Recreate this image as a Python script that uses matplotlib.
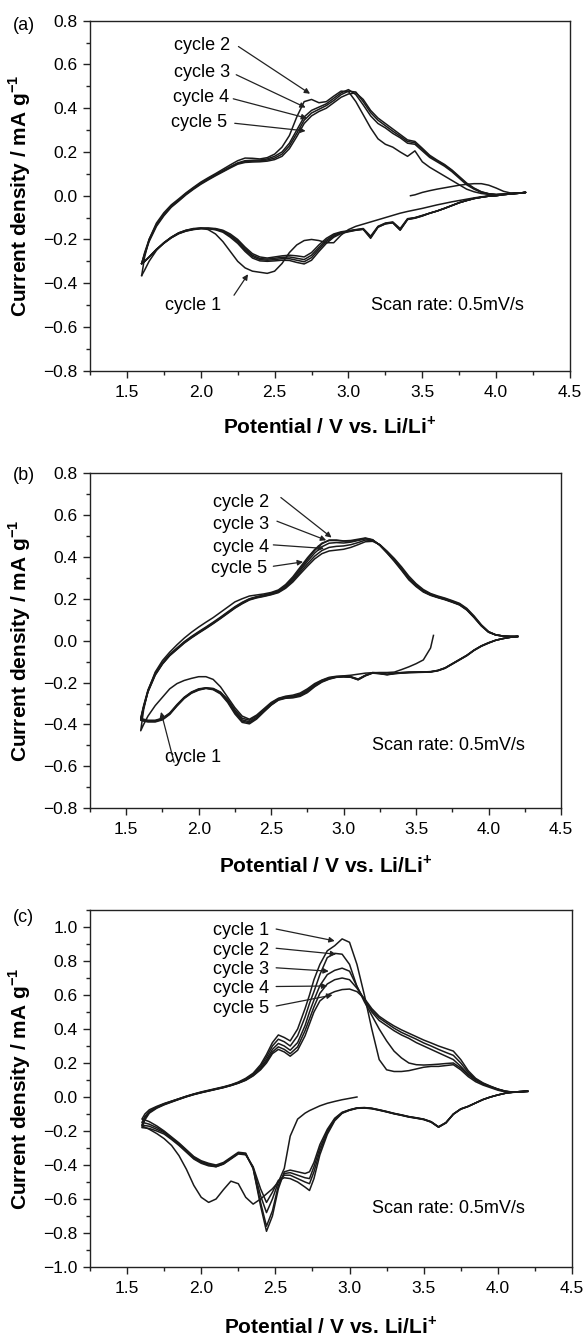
import numpy as np
import matplotlib.pyplot as plt

plt.rcParams['font.family'] = ['Liberation Sans', 'DejaVu Sans']
plt.rcParams['mathtext.fontset'] = 'custom'
plt.rcParams['mathtext.rm'] = 'Liberation Sans'
plt.rcParams['mathtext.bf'] = 'Liberation Sans:bold'

nan = np.nan

# ---------------- panel (a) ----------------
A_V = [1.60, 1.62, 1.65, 1.70, 1.75, 1.80, 1.85, 1.90, 1.95, 2.00,
       2.05, 2.10, 2.15, 2.20, 2.25, 2.30, 2.35, 2.40, 2.45, 2.50,
       2.55, 2.60, 2.65, 2.70, 2.75, 2.80, 2.85, 2.90, 2.95, 3.00,
       3.05, 3.10, 3.15, 3.20, 3.25, 3.30, 3.35, 3.40, 3.45, 3.50,
       3.55, 3.60, 3.65, 3.70, 3.75, 3.80, 3.85, 3.90, 3.95, 4.00,
       4.05, 4.10, 4.15, 4.20]
A_V0 = [3.42]
A_I0 = [0.0]
A_an1 = [nan] * 38 + [0.004, 0.015,
         0.023, 0.030, 0.036, 0.042, 0.048, 0.052, 0.055, 0.055, 0.048, 0.035,
         0.020, 0.012, 0.012, 0.015]
A_ca1 = [-0.365, -0.34, -0.30, -0.25, -0.215, -0.19, -0.17, -0.158, -0.15, -0.148,
         -0.155, -0.175, -0.21, -0.255, -0.30, -0.33, -0.345, -0.35, -0.355, -0.345,
         -0.31, -0.26, -0.225, -0.205, -0.20, -0.205, -0.215, -0.215, -0.18, -0.155,
         -0.14, -0.13, -0.12, -0.11, -0.10, -0.09, -0.08, -0.072, -0.065, -0.058,
         -0.05, -0.042, -0.035, -0.028, -0.022, -0.016, -0.01, -0.005, -0.001, 0.002,
         0.005, 0.008, 0.011, 0.015]
A_an2 = [-0.365, -0.28, -0.20, -0.125, -0.078, -0.042, -0.015, 0.013, 0.038, 0.062,
         0.082, 0.101, 0.121, 0.141, 0.160, 0.172, 0.171, 0.168, 0.174, 0.190,
         0.222, 0.275, 0.360, 0.430, 0.440, 0.425, 0.430, 0.455, 0.478, 0.476,
         0.430, 0.370, 0.310, 0.260, 0.235, 0.222, 0.200, 0.180, 0.205, 0.155,
         0.130, 0.110, 0.090, 0.070, 0.050, 0.030, 0.018, 0.010, 0.006, 0.005,
         0.007, 0.010, 0.012, 0.015]
A_ca2 = [-0.31, -0.30, -0.28, -0.245, -0.215, -0.19, -0.17, -0.158, -0.152, -0.148,
         -0.148, -0.15, -0.158, -0.175, -0.20, -0.235, -0.265, -0.28, -0.285, -0.28,
         -0.275, -0.272, -0.275, -0.28, -0.26, -0.225, -0.195, -0.175, -0.165, -0.16,
         -0.155, -0.15, -0.185, -0.14, -0.125, -0.12, -0.15, -0.105, -0.10, -0.09,
         -0.08, -0.07, -0.058, -0.045, -0.032, -0.022, -0.013, -0.007, -0.002, 0.0,
         0.005, 0.008, 0.011, 0.015]
A_an3 = [-0.31, -0.26, -0.20, -0.13, -0.085, -0.047, -0.02, 0.01, 0.035, 0.058,
         0.078, 0.097, 0.115, 0.133, 0.15, 0.16, 0.162, 0.163, 0.168, 0.18,
         0.20, 0.24, 0.30, 0.36, 0.39, 0.405, 0.42, 0.445, 0.47, 0.485,
         0.462, 0.415, 0.365, 0.33, 0.31, 0.285, 0.265, 0.24, 0.235, 0.205,
         0.175, 0.155, 0.135, 0.11, 0.08, 0.05, 0.03, 0.015, 0.008, 0.005,
         0.007, 0.010, 0.012, 0.015]
A_ca3 = [-0.31, -0.30, -0.28, -0.245, -0.216, -0.191, -0.172, -0.16, -0.153, -0.149,
         -0.149, -0.152, -0.161, -0.18, -0.206, -0.242, -0.272, -0.287, -0.29, -0.286,
         -0.282, -0.28, -0.286, -0.292, -0.272, -0.236, -0.203, -0.18, -0.168, -0.162,
         -0.156, -0.152, -0.19, -0.142, -0.127, -0.122, -0.155, -0.107, -0.101, -0.091,
         -0.08, -0.07, -0.058, -0.045, -0.032, -0.022, -0.013, -0.007, -0.002, 0.0,
         0.005, 0.008, 0.011, 0.015]
A_an4 = [-0.31, -0.265, -0.205, -0.135, -0.088, -0.05, -0.022, 0.007, 0.032, 0.055,
         0.075, 0.094, 0.112, 0.13, 0.147, 0.156, 0.158, 0.159, 0.163, 0.172,
         0.19, 0.228, 0.285, 0.345, 0.378, 0.395, 0.412, 0.435, 0.462, 0.478,
         0.474, 0.43, 0.38, 0.345, 0.32, 0.295, 0.272, 0.248, 0.242, 0.212,
         0.18, 0.16, 0.14, 0.115, 0.085, 0.055, 0.033, 0.017, 0.009, 0.005,
         0.007, 0.010, 0.012, 0.015]
A_ca4 = [-0.31, -0.30, -0.281, -0.246, -0.217, -0.192, -0.173, -0.161, -0.154, -0.15,
         -0.15, -0.154, -0.164, -0.185, -0.212, -0.248, -0.278, -0.292, -0.295, -0.292,
         -0.288, -0.288, -0.295, -0.302, -0.283, -0.245, -0.21, -0.185, -0.17, -0.163,
         -0.157, -0.153, -0.19, -0.143, -0.128, -0.123, -0.156, -0.108, -0.102, -0.092,
         -0.08, -0.07, -0.058, -0.045, -0.032, -0.022, -0.013, -0.007, -0.002, 0.0,
         0.005, 0.008, 0.011, 0.015]
A_an5 = [-0.31, -0.27, -0.21, -0.14, -0.092, -0.053, -0.025, 0.004, 0.029, 0.052,
         0.072, 0.091, 0.109, 0.127, 0.144, 0.152, 0.154, 0.155, 0.158, 0.165,
         0.18, 0.215, 0.27, 0.33, 0.365, 0.385, 0.40, 0.425, 0.45, 0.465,
         0.47, 0.44, 0.39, 0.355, 0.33, 0.305, 0.28, 0.255, 0.248, 0.217,
         0.185, 0.163, 0.143, 0.118, 0.088, 0.058, 0.035, 0.018, 0.009, 0.005,
         0.007, 0.010, 0.012, 0.015]
A_ca5 = [-0.31, -0.30, -0.282, -0.247, -0.218, -0.193, -0.174, -0.162, -0.155, -0.151,
         -0.151, -0.156, -0.167, -0.19, -0.218, -0.255, -0.285, -0.298, -0.30, -0.298,
         -0.295, -0.296, -0.305, -0.312, -0.295, -0.255, -0.218, -0.19, -0.173, -0.165,
         -0.158, -0.154, -0.195, -0.144, -0.129, -0.124, -0.158, -0.109, -0.103, -0.093,
         -0.08, -0.07, -0.058, -0.045, -0.032, -0.022, -0.013, -0.007, -0.002, 0.0,
         0.005, 0.008, 0.011, 0.015]

# ---------------- panel (b) ----------------
B_V = A_V
B_V0 = [3.62]
B_I0 = [0.025]
B_ca1 = [-0.43, -0.40, -0.36, -0.31, -0.27, -0.23, -0.205, -0.19, -0.18, -0.172,
         -0.172, -0.185, -0.22, -0.27, -0.32, -0.36, -0.375, -0.355, -0.325, -0.295,
         -0.275, -0.265, -0.26, -0.25, -0.23, -0.205, -0.188, -0.175, -0.17, -0.168,
         -0.165, -0.16, -0.155, -0.153, -0.152, -0.152, -0.15, -0.138, -0.125, -0.11,
         -0.092, -0.035] + [nan] * 12
B_an1 = [-0.43, -0.33, -0.24, -0.15, -0.095, -0.055, -0.02, 0.012, 0.04, 0.065,
         0.088, 0.11, 0.135, 0.16, 0.185, 0.20, 0.213, 0.218, 0.223, 0.23,
         0.242, 0.268, 0.305, 0.35, 0.395, 0.435, 0.465, 0.478, 0.478, 0.475,
         0.475, 0.48, 0.488, 0.48, 0.455, 0.42, 0.385, 0.34, 0.295, 0.262,
         0.235, 0.218, 0.207, 0.197, 0.185, 0.172, 0.148, 0.113, 0.073, 0.042,
         0.028, 0.022, 0.02, 0.02]
B_ca2 = [-0.37, -0.375, -0.38, -0.38, -0.37, -0.345, -0.305, -0.27, -0.245, -0.23,
         -0.225, -0.228, -0.245, -0.28, -0.33, -0.37, -0.38, -0.36, -0.33, -0.30,
         -0.277, -0.268, -0.265, -0.255, -0.235, -0.21, -0.19, -0.178, -0.172, -0.17,
         -0.172, -0.183, -0.165, -0.152, -0.155, -0.16, -0.155, -0.152, -0.15, -0.15,
         -0.149, -0.148, -0.142, -0.13, -0.11, -0.09, -0.07, -0.045, -0.025, -0.01,
         0.002, 0.01, 0.016, 0.02]
B_an2 = [-0.37, -0.31, -0.235, -0.155, -0.105, -0.065, -0.035, -0.005, 0.02, 0.043,
         0.065, 0.088, 0.112, 0.137, 0.162, 0.183, 0.20, 0.21, 0.218, 0.226,
         0.238, 0.262, 0.298, 0.342, 0.388, 0.43, 0.462, 0.48, 0.48, 0.476,
         0.478, 0.484, 0.49, 0.482, 0.455, 0.418, 0.378, 0.335, 0.29, 0.258,
         0.232, 0.216, 0.205, 0.195, 0.183, 0.17, 0.146, 0.11, 0.07, 0.04,
         0.027, 0.022, 0.02, 0.02]
B_ca3 = [-0.375, -0.378, -0.382, -0.382, -0.372, -0.348, -0.308, -0.272, -0.247, -0.232,
         -0.226, -0.23, -0.248, -0.285, -0.337, -0.378, -0.387, -0.366, -0.335, -0.304,
         -0.28, -0.271, -0.268, -0.259, -0.24, -0.214, -0.193, -0.18, -0.173, -0.171,
         -0.173, -0.185, -0.166, -0.153, -0.156, -0.161, -0.156, -0.153, -0.151, -0.15,
         -0.149, -0.148, -0.142, -0.13, -0.11, -0.09, -0.07, -0.045, -0.025, -0.01,
         0.002, 0.01, 0.016, 0.02]
B_an3 = [-0.375, -0.315, -0.24, -0.16, -0.108, -0.068, -0.038, -0.008, 0.017, 0.04,
         0.062, 0.085, 0.109, 0.134, 0.159, 0.18, 0.198, 0.208, 0.215, 0.223,
         0.235, 0.258, 0.292, 0.335, 0.378, 0.418, 0.448, 0.465, 0.468, 0.466,
         0.47, 0.478, 0.486, 0.48, 0.456, 0.42, 0.382, 0.34, 0.295, 0.262,
         0.236, 0.219, 0.207, 0.197, 0.185, 0.172, 0.148, 0.112, 0.072, 0.041,
         0.027, 0.022, 0.02, 0.02]
B_ca4 = [-0.378, -0.381, -0.385, -0.385, -0.375, -0.35, -0.31, -0.274, -0.249, -0.234,
         -0.227, -0.232, -0.251, -0.29, -0.343, -0.384, -0.392, -0.37, -0.338, -0.306,
         -0.282, -0.273, -0.27, -0.262, -0.244, -0.217, -0.196, -0.182, -0.174, -0.172,
         -0.174, -0.186, -0.167, -0.154, -0.157, -0.162, -0.157, -0.154, -0.152, -0.151,
         -0.15, -0.149, -0.143, -0.131, -0.111, -0.091, -0.071, -0.046, -0.026, -0.011,
         0.002, 0.01, 0.016, 0.02]
B_an4 = [-0.378, -0.318, -0.243, -0.162, -0.11, -0.07, -0.04, -0.01, 0.015, 0.038,
         0.06, 0.083, 0.107, 0.132, 0.157, 0.178, 0.196, 0.206, 0.213, 0.221,
         0.232, 0.254, 0.286, 0.326, 0.366, 0.403, 0.43, 0.445, 0.45, 0.452,
         0.458, 0.468, 0.48, 0.478, 0.458, 0.424, 0.387, 0.346, 0.301, 0.267,
         0.24, 0.222, 0.21, 0.20, 0.188, 0.175, 0.151, 0.115, 0.074, 0.042,
         0.027, 0.022, 0.02, 0.02]
B_ca5 = [-0.38, -0.384, -0.388, -0.388, -0.378, -0.352, -0.312, -0.276, -0.251, -0.236,
         -0.228, -0.234, -0.254, -0.295, -0.35, -0.39, -0.397, -0.374, -0.34, -0.308,
         -0.284, -0.275, -0.273, -0.266, -0.248, -0.22, -0.198, -0.184, -0.175, -0.173,
         -0.175, -0.187, -0.168, -0.155, -0.158, -0.163, -0.158, -0.155, -0.153, -0.152,
         -0.151, -0.15, -0.144, -0.132, -0.112, -0.092, -0.072, -0.047, -0.027, -0.012,
         0.002, 0.01, 0.016, 0.02]
B_an5 = [-0.38, -0.32, -0.245, -0.165, -0.112, -0.072, -0.042, -0.012, 0.013, 0.036,
         0.058, 0.081, 0.105, 0.13, 0.155, 0.176, 0.194, 0.204, 0.211, 0.219,
         0.229, 0.25, 0.28, 0.318, 0.355, 0.39, 0.415, 0.428, 0.432, 0.436,
         0.445, 0.458, 0.472, 0.474, 0.458, 0.427, 0.392, 0.352, 0.308, 0.272,
         0.244, 0.225, 0.213, 0.203, 0.191, 0.178, 0.154, 0.118, 0.076, 0.043,
         0.028, 0.022, 0.02, 0.02]

# ---------------- panel (c) ----------------
C_V = [1.60, 1.62, 1.65, 1.70, 1.75, 1.80, 1.85, 1.90, 1.95, 2.00,
       2.05, 2.10, 2.15, 2.20, 2.25, 2.30, 2.35, 2.40, 2.44, 2.48,
       2.52, 2.56, 2.60, 2.65, 2.70, 2.73, 2.76, 2.80, 2.85, 2.90,
       2.95, 3.00, 3.05, 3.10, 3.15, 3.20, 3.25, 3.30, 3.35, 3.40,
       3.45, 3.50, 3.55, 3.60, 3.65, 3.70, 3.75, 3.80, 3.85, 3.90,
       3.95, 4.00, 4.05, 4.10, 4.15, 4.20]
C_V0 = [3.05]
C_I0 = [0.0]
C_ca1 = [-0.17, -0.178, -0.19, -0.215, -0.245, -0.285, -0.345, -0.425, -0.52, -0.59,
         -0.62, -0.60, -0.545, -0.495, -0.51, -0.59, -0.63, -0.60, -0.57, -0.54,
         -0.50, -0.42, -0.23, -0.13, -0.095, -0.08, -0.068, -0.052, -0.037, -0.026,
         -0.016, -0.008] + [nan] * 24
C_an1 = [-0.17, -0.12, -0.085, -0.06, -0.04, -0.025, -0.01, 0.005, 0.018, 0.03,
         0.04, 0.05, 0.06, 0.072, 0.088, 0.11, 0.14, 0.19, 0.25, 0.32,
         0.365, 0.35, 0.33, 0.40, 0.52, 0.60, 0.69, 0.78, 0.86, 0.89,
         0.93, 0.91, 0.78, 0.60, 0.40, 0.22, 0.16, 0.15, 0.15, 0.155,
         0.165, 0.175, 0.18, 0.18, 0.185, 0.19, 0.16, 0.12, 0.09, 0.07,
         0.055, 0.04, 0.03, 0.027, 0.03, 0.033]
C_ca2 = [-0.13, -0.135, -0.145, -0.17, -0.20, -0.235, -0.27, -0.31, -0.35, -0.375,
         -0.39, -0.40, -0.385, -0.355, -0.325, -0.33, -0.42, -0.64, -0.79, -0.70,
         -0.54, -0.44, -0.43, -0.44, -0.45, -0.44, -0.385, -0.28, -0.19, -0.125,
         -0.09, -0.075, -0.064, -0.062, -0.066, -0.075, -0.085, -0.096, -0.105, -0.115,
         -0.122, -0.13, -0.145, -0.175, -0.15, -0.10, -0.07, -0.055, -0.035, -0.015,
         0.0, 0.012, 0.022, 0.028, 0.032, 0.035]
C_an2 = [-0.13, -0.10, -0.075, -0.055, -0.038, -0.024, -0.01, 0.004, 0.017, 0.028,
         0.038, 0.048, 0.058, 0.07, 0.085, 0.105, 0.135, 0.18, 0.235, 0.30,
         0.34, 0.325, 0.30, 0.36, 0.47, 0.55, 0.62, 0.72, 0.82, 0.845,
         0.84, 0.78, 0.65, 0.56, 0.48, 0.40, 0.33, 0.27, 0.23, 0.20,
         0.19, 0.188, 0.19, 0.193, 0.197, 0.20, 0.17, 0.13, 0.098, 0.077,
         0.06, 0.045, 0.033, 0.028, 0.03, 0.033]
C_ca3 = [-0.15, -0.153, -0.16, -0.18, -0.205, -0.24, -0.275, -0.315, -0.355, -0.38,
         -0.395, -0.405, -0.39, -0.36, -0.33, -0.335, -0.42, -0.62, -0.76, -0.67,
         -0.52, -0.45, -0.445, -0.46, -0.475, -0.48, -0.41, -0.30, -0.20, -0.13,
         -0.092, -0.076, -0.065, -0.063, -0.067, -0.076, -0.086, -0.097, -0.106, -0.116,
         -0.123, -0.131, -0.146, -0.176, -0.151, -0.10, -0.07, -0.055, -0.035, -0.015,
         0.0, 0.012, 0.022, 0.028, 0.032, 0.035]
C_an3 = [-0.15, -0.115, -0.085, -0.06, -0.042, -0.027, -0.012, 0.003, 0.016, 0.027,
         0.037, 0.047, 0.057, 0.069, 0.083, 0.102, 0.13, 0.17, 0.22, 0.28,
         0.315, 0.30, 0.275, 0.32, 0.42, 0.50, 0.57, 0.655, 0.72, 0.745,
         0.758, 0.74, 0.65, 0.57, 0.50, 0.45, 0.42, 0.39, 0.365, 0.345,
         0.32, 0.30, 0.28, 0.26, 0.24, 0.22, 0.18, 0.135, 0.10, 0.078,
         0.06, 0.045, 0.033, 0.028, 0.03, 0.033]
C_ca4 = [-0.165, -0.168, -0.172, -0.19, -0.21, -0.245, -0.28, -0.32, -0.36, -0.385,
         -0.40, -0.41, -0.393, -0.362, -0.332, -0.338, -0.415, -0.58, -0.68, -0.60,
         -0.50, -0.46, -0.46, -0.48, -0.50, -0.51, -0.44, -0.32, -0.21, -0.135,
         -0.094, -0.077, -0.066, -0.064, -0.068, -0.077, -0.087, -0.098, -0.107, -0.117,
         -0.124, -0.132, -0.147, -0.177, -0.152, -0.101, -0.071, -0.055, -0.035, -0.015,
         0.0, 0.012, 0.022, 0.028, 0.032, 0.035]
C_an4 = [-0.165, -0.125, -0.09, -0.063, -0.044, -0.028, -0.013, 0.002, 0.015, 0.026,
         0.036, 0.046, 0.056, 0.068, 0.082, 0.10, 0.127, 0.165, 0.21, 0.265,
         0.295, 0.28, 0.255, 0.295, 0.39, 0.46, 0.53, 0.61, 0.665, 0.69,
         0.70, 0.69, 0.64, 0.575, 0.51, 0.465, 0.435, 0.405, 0.38, 0.36,
         0.34, 0.318, 0.30, 0.28, 0.262, 0.245, 0.20, 0.145, 0.105, 0.08,
         0.062, 0.046, 0.034, 0.028, 0.03, 0.033]
C_ca5 = [-0.18, -0.182, -0.185, -0.20, -0.218, -0.25, -0.285, -0.325, -0.365, -0.39,
         -0.405, -0.41, -0.395, -0.365, -0.335, -0.34, -0.41, -0.54, -0.62, -0.56,
         -0.49, -0.475, -0.48, -0.50, -0.53, -0.55, -0.48, -0.34, -0.22, -0.14,
         -0.096, -0.078, -0.067, -0.065, -0.069, -0.078, -0.088, -0.099, -0.108, -0.118,
         -0.125, -0.133, -0.148, -0.178, -0.153, -0.102, -0.072, -0.056, -0.035, -0.015,
         0.0, 0.012, 0.022, 0.028, 0.032, 0.035]
C_an5 = [-0.18, -0.135, -0.095, -0.066, -0.046, -0.03, -0.014, 0.001, 0.014, 0.025,
         0.035, 0.045, 0.055, 0.067, 0.081, 0.098, 0.124, 0.16, 0.20, 0.255,
         0.28, 0.265, 0.24, 0.275, 0.36, 0.43, 0.50, 0.565, 0.60, 0.62,
         0.632, 0.635, 0.62, 0.58, 0.52, 0.475, 0.445, 0.418, 0.395, 0.375,
         0.355, 0.335, 0.318, 0.30, 0.285, 0.27, 0.22, 0.155, 0.11, 0.083,
         0.064, 0.047, 0.035, 0.029, 0.03, 0.033]

cycle_labels = ['cycle 1', 'cycle 2', 'cycle 3', 'cycle 4', 'cycle 5']


def sweep(v, i, up=True):
    v = np.array(v, float)
    i = np.array(i, float)
    keep = ~np.isnan(i)
    v, i = v[keep], i[keep]
    if not up:
        v, i = v[::-1], i[::-1]
    return v, i


def join(*parts):
    return (np.concatenate([np.asarray(p[0], float) for p in parts]),
            np.concatenate([np.asarray(p[1], float) for p in parts]))


W, H = 586, 1337
fig = plt.figure(figsize=(W / 100, H / 100), dpi=100)


def make_axes(left, right, top, bottom, xlab_px):
    ax = fig.add_axes([left / W, 1 - bottom / H, (right - left) / W, (bottom - top) / H])
    ax.xaxis.set_label_coords(0.5, -xlab_px / (bottom - top))
    ax.yaxis.set_label_coords((20 - left) / (right - left), 0.5)
    return ax


def style(ax, ylo, yhi, yticks):
    ax.set_xlim(1.25, 4.5)
    ax.set_ylim(ylo, yhi)
    ax.set_xticks([1.5, 2.0, 2.5, 3.0, 3.5, 4.0, 4.5])
    ax.set_xticks([1.25, 1.75, 2.25, 2.75, 3.25, 3.75, 4.25], minor=True)
    ax.set_yticks(yticks)
    ax.set_yticks(np.round(np.arange(ylo, yhi + 1e-6, 0.1), 2), minor=True)
    ax.xaxis.set_major_formatter('{x:.1f}')
    ax.yaxis.set_major_formatter('{x:.1f}')
    ax.tick_params(which='both', direction='out', top=False, right=False,
                   labelsize=12.5, width=1.0, color='#222222')
    ax.tick_params(which='major', length=5)
    ax.tick_params(which='minor', length=3)
    ax.tick_params(axis='x', which='major', pad=5)
    ax.tick_params(axis='y', which='major', pad=4)
    for s in ax.spines.values():
        s.set_linewidth(1.0)
        s.set_color('#222222')
    ax.set_xlabel(r'Potential / V vs. Li/Li$^{\mathbf{+}}$', fontsize=15,
                  fontweight='bold', va='center')
    ax.set_ylabel(r'Current density / mA g$^{\mathbf{-1}}$', fontsize=15,
                  fontweight='bold', va='center')


def arrow(ax, tail, tip):
    ax.annotate('', xy=tip, xytext=tail,
                arrowprops=dict(arrowstyle='-|>', color='#222222', lw=0.9,
                                mutation_scale=8, shrinkA=0, shrinkB=0))


line_kw = dict(color='#1a1a1a', lw=1.1)
txt_kw = dict(ha='center', va='center', fontsize=13)

# (a)
ax = make_axes(90, 570, 20.7, 370.7, 56)
style(ax, -0.8, 0.8, [-0.8, -0.6, -0.4, -0.2, 0.0, 0.2, 0.4, 0.6, 0.8])
x, y = join((A_V0, A_I0), sweep(A_V, A_an1), sweep(A_V, A_ca1, False))
ax.plot(x, y, **line_kw)
for an, ca in [(A_an2, A_ca2), (A_an3, A_ca3), (A_an4, A_ca4), (A_an5, A_ca5)]:
    x, y = join(sweep(A_V, an), sweep(A_V, ca, False))
    ax.plot(x, y, **line_kw)
txt_a = [(2.01, 0.687), (2.01, 0.563), (2.0, 0.449), (1.99, 0.336)]
tail_a = [(2.255, 0.682), (2.24, 0.553), (2.22, 0.443), (2.23, 0.331)]
tip_a = [(2.74, 0.466), (2.71, 0.403), (2.72, 0.354), (2.71, 0.296)]
for lab, t, a, b in zip(cycle_labels[1:], txt_a, tail_a, tip_a):
    ax.text(*t, lab, **txt_kw)
    arrow(ax, a, b)
ax.text(1.945, -0.5, 'cycle 1', **txt_kw)
arrow(ax, (2.225, -0.455), (2.32, -0.359))
ax.text(3.67, -0.5, 'Scan rate: 0.5mV/s', **txt_kw)
fig.text(13 / W, 1 - 25 / H, '(a)', ha='left', va='center', fontsize=13)

# (b)
ax = make_axes(90, 561, 473, 808.3, 57)
style(ax, -0.8, 0.8, [-0.8, -0.6, -0.4, -0.2, 0.0, 0.2, 0.4, 0.6, 0.8])
x, y = join((B_V0, B_I0), sweep(B_V, B_ca1, False), sweep(B_V, B_an1))
ax.plot(x, y, **line_kw)
for ca, an in [(B_ca2, B_an2), (B_ca3, B_an3), (B_ca4, B_an4), (B_ca5, B_an5)]:
    x, y = join(sweep(B_V, ca, False), sweep(B_V, an))
    ax.plot(x, y, **line_kw)
txt_b = [(2.295, 0.659), (2.295, 0.556), (2.29, 0.443), (2.28, 0.344)]
tail_b = [(2.567, 0.683), (2.54, 0.57), (2.515, 0.457), (2.515, 0.355)]
tip_b = [(2.917, 0.492), (2.88, 0.479), (2.865, 0.44), (2.72, 0.376)]
for lab, t, a, b in zip(cycle_labels[1:], txt_b, tail_b, tip_b):
    ax.text(*t, lab, **txt_kw)
    arrow(ax, a, b)
ax.text(1.96, -0.556, 'cycle 1', **txt_kw)
arrow(ax, (1.83, -0.58), (1.74, -0.34))
ax.text(3.72, -0.5, 'Scan rate: 0.5mV/s', **txt_kw)
fig.text(13 / W, 1 - 475 / H, '(b)', ha='left', va='center', fontsize=13)

# (c)
ax = make_axes(90, 572, 910, 1267, 59)
style(ax, -1.0, 1.1, [-1.0, -0.8, -0.6, -0.4, -0.2, 0.0, 0.2, 0.4, 0.6, 0.8, 1.0])
x, y = join((C_V0, C_I0), sweep(C_V, C_ca1, False), sweep(C_V, C_an1))
ax.plot(x, y, **line_kw)
for ca, an in [(C_ca2, C_an2), (C_ca3, C_an3), (C_ca4, C_an4), (C_ca5, C_an5)]:
    x, y = join(sweep(C_V, ca, False), sweep(C_V, an))
    ax.plot(x, y, **line_kw)
txt_c = [(2.27, 0.978), (2.27, 0.86), (2.27, 0.75), (2.27, 0.64), (2.27, 0.52)]
tail_c = [(2.505, 0.988), (2.505, 0.875), (2.505, 0.76), (2.505, 0.65), (2.505, 0.535)]
tip_c = [(2.9, 0.918), (2.91, 0.84), (2.86, 0.74), (2.85, 0.653), (2.885, 0.6)]
for lab, t, a, b in zip(cycle_labels, txt_c, tail_c, tip_c):
    ax.text(*t, lab, **txt_kw)
    arrow(ax, a, b)
ax.text(3.67, -0.655, 'Scan rate: 0.5mV/s', **txt_kw)
fig.text(13 / W, 1 - 917 / H, '(c)', ha='left', va='center', fontsize=13)

fig.savefig('out.png', dpi=100)
